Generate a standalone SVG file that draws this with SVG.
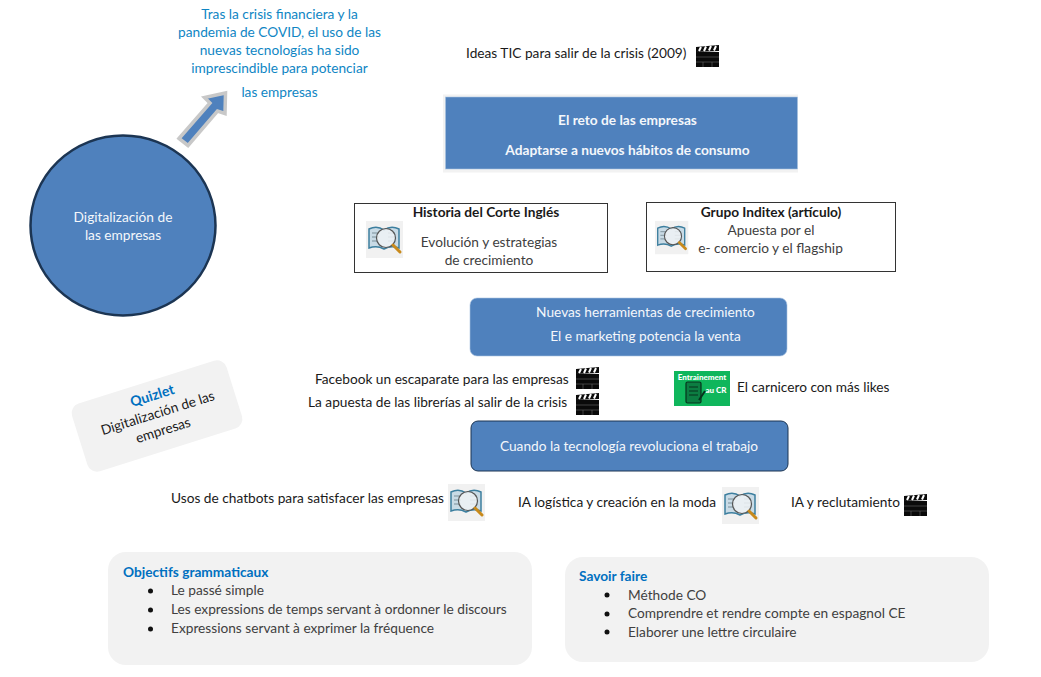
<svg xmlns="http://www.w3.org/2000/svg" width="1041" height="677" viewBox="0 0 1041 677">
<style>
text{font-family:Lato,"Liberation Sans",sans-serif;font-size:13.7px;fill:#1a1a1a}
.m{text-anchor:middle}
.w{fill:#f4f7fb}
.b{font-weight:700}
.c{fill:#0f86c4}
.h{fill:#0070c0;font-weight:700}
.g{fill:#404040}
.panel{fill:#f2f2f2}
.blue{fill:#4f81bd}
.box{fill:#fff;stroke:#333;stroke-width:1}
</style>
<defs>
<g id="clap">
<rect x="0" y="7" width="23" height="15" fill="#0a0a0a"/>
<path d="M0 7 L0 2 L23 0 L23 6 Z" fill="#0a0a0a"/>
<path d="M3 6 L5 2 M8 6 L10 1.500 M13 5.500 L15 1 M18 5.500 L20 1" stroke="#fff" stroke-width="2" fill="none"/>
<path d="M0 12H23M0 17H23M7 17V22M16 17V22" stroke="#666" stroke-width=".6"/>
</g>
<g id="book">
<rect x="0" y="0" width="37" height="37" fill="#f1f1f1"/>
<path d="M3 27 L3 8 Q11 4 18 9 Q25 4 33 8 L33 27 Q25 24 18 28 Q11 24 3 27 Z" fill="#c9dbe6" stroke="#3d7f9f" stroke-width="1.500"/>
<path d="M6 12H13M6 16H13M6 20H13M22 12H29M22 16H29M22 20H29" stroke="#7b8f99" stroke-width="1"/>
<circle cx="20" cy="17" r="9.500" fill="#eef2f4" fill-opacity=".85" stroke="#555" stroke-width="1.200"/>
<path d="M27 24 L34 31" stroke="#c98a1b" stroke-width="3" stroke-linecap="round"/>
</g>
</defs>

<g id="connectors">
<path d="M179 138.500 L210 103 L204.500 97.500 L225.500 93 L225 113.500 L217.500 111 L188 145.500 Z" fill="#4f81bd" stroke="#c8c8c8" stroke-width="3.500" stroke-linejoin="miter"/>
</g>

<g id="node-circle">
<ellipse cx="123" cy="225.500" rx="92.500" ry="90" class="blue" stroke="#1c3553" stroke-width="2.500"/>
<text x="123" y="222" class="m w">Digitalización de</text>
<text x="123" y="240" class="m w">las empresas</text>
</g>

<g id="node-intro">
<text x="279.500" y="19" class="m c">Tras la crisis financiera y la</text>
<text x="279.500" y="37" class="m c">pandemia de COVID, el uso de las</text>
<text x="279.500" y="55" class="m c">nuevas tecnologías ha sido</text>
<text x="279.500" y="73" class="m c">imprescindible para potenciar</text>
<text x="279.500" y="97" class="m c">las empresas</text>
</g>

<g id="node-ideas">
<text x="466" y="58">Ideas TIC para salir de la crisis (2009)</text>
<use href="#clap" x="696" y="45"/>
</g>

<g id="node-reto">
<rect x="443" y="94.500" width="355" height="78" fill="#f2f2f2"/>
<rect x="445.500" y="97" width="352" height="72" class="blue" stroke="#a9c3e0" stroke-width=".6"/>
<text x="627.500" y="125" class="m w b">El reto de las empresas</text>
<text x="627.500" y="155" class="m w b">Adaptarse a nuevos hábitos de consumo</text>
</g>

<g id="node-corte">
<rect x="354.500" y="203.500" width="253" height="69" class="box"/>
<text x="486" y="217" class="m b" fill="#000">Historia del Corte Inglés</text>
<use href="#book" x="366" y="221"/>
<text x="489" y="247" class="m g">Evolución y estrategias</text>
<text x="489" y="265" class="m g">de crecimiento</text>
</g>

<g id="node-inditex">
<rect x="646.500" y="202.500" width="249" height="69" class="box"/>
<text x="771" y="217" class="m b" fill="#000">Grupo Inditex (artículo)</text>
<use href="#book" x="655" y="221" transform="translate(65.500 22) scale(.9)"/>
<text x="771" y="235" class="m g">Apuesta por el</text>
<text x="770.500" y="253" class="m g">e- comercio y el flagship</text>
</g>

<g id="node-herramientas">
<rect x="470" y="298" width="317" height="58" rx="7" class="blue" stroke="#a9c3e0" stroke-width=".6"/>
<text x="645.500" y="317" class="m w">Nuevas herramientas de crecimiento</text>
<text x="645.500" y="341" class="m w">El e marketing potencia la venta</text>
</g>

<g id="node-facebook">
<text x="315" y="384">Facebook un escaparate para las empresas</text>
<use href="#clap" x="576" y="367"/>
</g>

<g id="node-librerias">
<text x="308" y="407">La apuesta de las librerías al salir de la crisis</text>
<use href="#clap" x="576" y="393"/>
</g>

<g id="node-carnicero">
<rect x="674" y="371" width="56" height="35" fill="#0fb65c"/>
<text x="702" y="380" class="m" style="font-size:8px;font-weight:900;fill:#fff">Entrainement</text>
<text x="716" y="393" class="m" style="font-size:8px;font-weight:900;fill:#fff">au CR</text>
<rect x="686" y="382" width="15" height="21" rx="1.500" fill="#0c7d42" stroke="#06321c" stroke-width="1.200"/>
<path d="M689 387H698M689 391H698M689 395H698" stroke="#06321c" stroke-width="1.200"/>
<path d="M699 400 L705 391" stroke="#06321c" stroke-width="2"/>
<text x="737" y="392">El carnicero con más likes</text>
</g>

<g id="node-quizlet" transform="rotate(-17.500 157 416)">
<rect x="76" y="380.500" width="162" height="71" rx="10" class="panel"/>
<text x="158.500" y="400" class="m h" style="font-size:14px">Quizlet</text>
<text x="158.500" y="418" class="m">Digitalización de las</text>
<text x="158.500" y="436" class="m">empresas</text>
</g>

<g id="node-revoluciona">
<rect x="471" y="421" width="317" height="50" rx="7" class="blue" stroke="#1c3553" stroke-width="1"/>
<text x="629" y="451" class="m w">Cuando la tecnología revoluciona el trabajo</text>
</g>

<g id="node-chatbots">
<text x="171" y="503">Usos de chatbots para satisfacer las empresas</text>
<use href="#book" x="448" y="484"/>
</g>

<g id="node-logistica">
<text x="518" y="507">IA logística y creación en la moda</text>
<use href="#book" x="722" y="487"/>
</g>

<g id="node-reclutamiento">
<text x="791" y="507">IA y reclutamiento</text>
<use href="#clap" x="904" y="494"/>
</g>

<g id="node-objectifs">
<rect x="108" y="552" width="424" height="113" rx="18" class="panel"/>
<text x="123" y="577" class="h">Objectifs grammaticaux</text>
<circle cx="150.500" cy="591" r="2.500" fill="#111"/>
<circle cx="150.500" cy="610" r="2.500" fill="#111"/>
<circle cx="150.500" cy="629" r="2.500" fill="#111"/>
<text x="171" y="595" class="g">Le passé simple</text>
<text x="171" y="614" class="g">Les expressions de temps servant à ordonner le discours</text>
<text x="171" y="633" class="g">Expressions servant à exprimer la fréquence</text>
</g>

<g id="node-savoir">
<rect x="565" y="557" width="424" height="105" rx="18" class="panel"/>
<text x="579" y="581" class="h">Savoir faire</text>
<circle cx="607" cy="595" r="2.500" fill="#111"/>
<circle cx="607" cy="614" r="2.500" fill="#111"/>
<circle cx="607" cy="632" r="2.500" fill="#111"/>
<text x="628" y="600" class="g">Méthode CO</text>
<text x="628" y="618" class="g">Comprendre et rendre compte en espagnol CE</text>
<text x="628" y="637" class="g">Elaborer une lettre circulaire</text>
</g>
</svg>
